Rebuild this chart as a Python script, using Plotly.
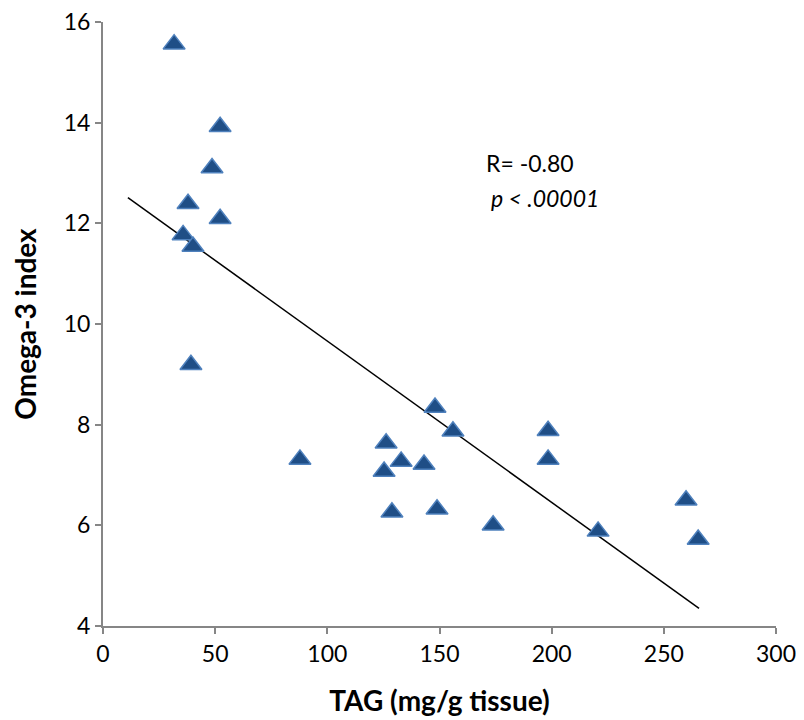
import plotly.graph_objects as go

# Data
tag = [31.7, 52.2, 48.6, 37.9, 52.2, 35.7, 40.1, 39.2, 87.8, 126.2, 125.3, 132.9,
       143.1, 128.8, 148.0, 156.0, 148.9, 173.9, 198.4, 198.4, 220.7, 259.9, 265.3]
omega3 = [15.56, 13.92, 13.10, 12.39, 12.09, 11.77, 11.54, 9.19, 7.31, 7.63, 7.07, 7.27,
          7.21, 6.26, 8.34, 7.87, 6.32, 6.00, 7.88, 7.31, 5.88, 6.50, 5.72]

# Linear trend line endpoints
trend_x = [11.1, 265.7]
trend_y = [12.51, 4.35]

x_ticks = [0, 50, 100, 150, 200, 250, 300]
y_ticks = [4, 6, 8, 10, 12, 14, 16]

FONT = "Lato, 'Open Sans', sans-serif"

fig = go.Figure()
fig.add_trace(go.Scatter(
    x=trend_x, y=trend_y, mode="lines",
    line=dict(color="black", width=1.5), showlegend=False, hoverinfo="skip"))
fig.add_trace(go.Scatter(
    x=tag, y=omega3, mode="markers",
    marker=dict(symbol="triangle-up", size=19, color="#1F4E86",
                line=dict(color="#4F81BD", width=1.5)),
    showlegend=False))

fig.add_annotation(x=0.566, y=0.767, xref="paper", yref="paper",
                   text="R= -0.80", showarrow=False, xanchor="left", yanchor="middle",
                   font=dict(family=FONT, size=23, color="black"))
fig.add_annotation(x=0.573, y=0.709, xref="paper", yref="paper",
                   text="<i>p < .00001</i>", showarrow=False, xanchor="left", yanchor="middle",
                   font=dict(family=FONT, size=23, color="black"))

fig.update_layout(
    width=796, height=712,
    paper_bgcolor="white", plot_bgcolor="white",
    margin=dict(l=95, r=28, t=14, b=94),
    font=dict(family=FONT, size=23, color="black"),
    xaxis=dict(range=[0, 300], tickvals=x_ticks, showgrid=False, zeroline=False,
               showline=True, linecolor="#868686", linewidth=2,
               ticks="outside", ticklen=6, tickcolor="#868686", tickwidth=2,
               tickfont=dict(size=23, family=FONT), ticklabeloverflow="allow",
               automargin=False,
               title=dict(text="<b>TAG (mg/g tissue)</b>", font=dict(size=28, family=FONT), standoff=26)),
    yaxis=dict(range=[4, 16], tickvals=y_ticks, showgrid=False, zeroline=False,
               showline=True, linecolor="#868686", linewidth=2,
               ticks="outside", ticklen=6, tickcolor="#868686", tickwidth=2,
               tickfont=dict(size=23, family=FONT), ticklabeloverflow="allow",
               automargin=False,
               title=dict(text="<b>Omega-3 index</b>", font=dict(size=28, family=FONT), standoff=20)),
)

fig.write_html("out.html")
